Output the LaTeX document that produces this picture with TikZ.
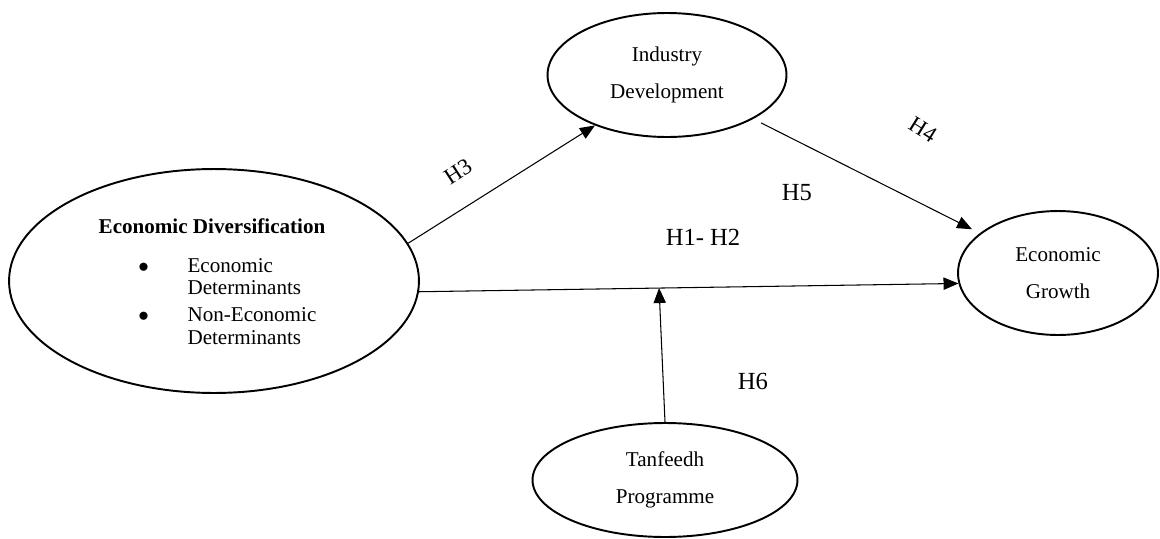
\documentclass[tikz,border=0pt]{standalone}
\usepackage{fontspec}
\setmainfont{Liberation Serif}
\usetikzlibrary{shapes.geometric}
\usetikzlibrary{arrows.meta}

\begin{document}
\begin{tikzpicture}[x=0.02cm, y=-0.02cm,
    construct/.style={ellipse, draw, line width=1.1pt, inner sep=0pt, align=center, font=\fontsize{12}{21}\selectfont},
    link/.style={-{Triangle[length=8.5pt, width=7pt]}, line width=0.6pt},
    hyp/.style={font=\fontsize{14}{16}\selectfont}]

    \useasboundingbox (0,0) rectangle (1160,538);

    % constructs
    \node[construct, minimum width=8.2cm, minimum height=4.48cm] (div) at (214,281) {};
    \node[anchor=base, font=\fontsize{12}{14}\selectfont\bfseries] (divtitle) at (212,233) {Economic Diversification};
    \node[anchor=base west, inner sep=0pt, font=\fontsize{12}{13}\selectfont] (divlist) at (138,272) {%
        \begin{tabular}[t]{@{}l@{\hspace{22pt}}l@{}}
            $\bullet$ & Economic\\
                      & Determinants\\[2.3pt]
            $\bullet$ & Non-Economic\\
                      & Determinants
        \end{tabular}};

    \node[construct, minimum width=4.78cm, minimum height=2.48cm] (ind) at (667,75) {Industry\\Development};
    \node[construct, minimum width=4cm, minimum height=2.48cm] (growth) at (1058,273) {Economic\\Growth};
    \node[construct, minimum width=5.3cm, minimum height=2.28cm] (tan) at (665,480) {Tanfeedh\\Programme};


    \draw[link] (div.11) -- (ind.215);
    \draw[link, shorten <=5pt, shorten >=5pt] (ind.333) -- (growth.153);
    \draw[link] (div.357) -- coordinate[pos=0.445] (meet) (growth.186);
    \draw[link] (tan.north) -- (meet);

    % hypotheses
    \node[font=\fontsize{13}{15}\selectfont, rotate=33] (h3) at (458,172) {H3};
    \node[font=\fontsize{13}{15}\selectfont, rotate=-32] (h4) at (923,130) {H4};
    \node[hyp] (h5) at (797,193) {H5};
    \node[hyp] (h12) at (703,237) {H1- H2};
    \node[hyp] (h6) at (753,381) {H6};

\end{tikzpicture}
\end{document}
